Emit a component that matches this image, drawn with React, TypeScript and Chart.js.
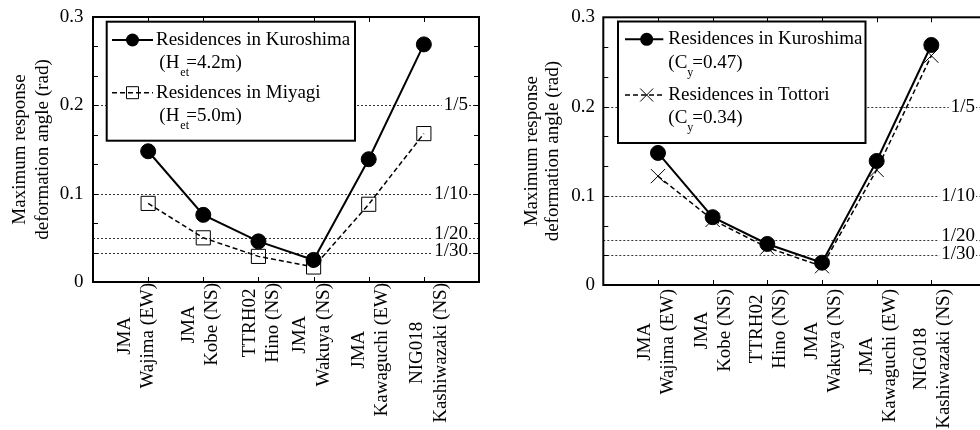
import React, { useEffect, useRef } from "react";
import { Chart, registerables } from "chart.js";
Chart.register(...registerables);

const FONT = "'Liberation Serif', 'Times New Roman', Times, serif";

// ---- data ----
const stationCodes = ["JMA", "JMA", "TTRH02", "JMA", "JMA", "NIG018"];
const stationNames = ["Wajima (EW)", "Kobe (NS)", "Hino (NS)", "Wakuya (NS)", "Kawaguchi (EW)", "Kashiwazaki (NS)"];
const categoryPositions = [1, 2, 3, 4, 5, 6];
const kuroshima = [0.148, 0.076, 0.046, 0.025, 0.139, 0.269];
const miyagi = [0.089, 0.05, 0.029, 0.017, 0.088, 0.168];
const tottori = [0.122, 0.073, 0.042, 0.021, 0.129, 0.257];
const refValues = [1 / 5, 1 / 10, 1 / 20, 1 / 30];
const refLabels = ["1/5", "1/10", "1/20", "1/30"];
const yTitle = ["Maximum response", "deformation angle (rad)"];
const yMax = 0.3;
const yMinorStep = 1 / 30;
const xMax = 7;

type Series = {
  name: string;
  pre: string;
  sub: string;
  post: string;
  data: number[];
  style: "circle" | "rect" | "crossRot";
  dash: number[];
  radius: number;
  fill: string;
};

const kuroshimaH: Series = { name: "Residences in Kuroshima", pre: "(H", sub: "et", post: "=4.2m)", data: kuroshima, style: "circle", dash: [], radius: 7.5, fill: "#000" };
const miyagiH: Series = { name: "Residences in Miyagi", pre: "(H", sub: "et", post: "=5.0m)", data: miyagi, style: "rect", dash: [5, 3], radius: 10, fill: "rgba(0,0,0,0)" };
const kuroshimaC: Series = { name: "Residences in Kuroshima", pre: "(C", sub: "y", post: "=0.47)", data: kuroshima, style: "circle", dash: [], radius: 7.5, fill: "#000" };
const tottoriC: Series = { name: "Residences in Tottori", pre: "(C", sub: "y", post: "=0.34)", data: tottori, style: "crossRot", dash: [5, 3], radius: 10, fill: "rgba(0,0,0,0)" };

type Cfg = {
  series: Series[];
  padding: { left: number; right: number; top: number; bottom: number };
  yAxisWidth: number;
  tickPad: number;
  titlePad: number;
  titleLH: number;
  refInset: number;
  refNudge: number[];
  labelGap: number;
  labelLH: number;
  labelNudge: number[];
  legend: { x: number; y: number; w: number; h: number; l1: number; l2: number; mx: number; tx: number; px: number; rows: number[]; subOff: number; postOff: number };
};

function zeroPadding(s: any) {
  s.paddingLeft = 0;
  s.paddingRight = 0;
  s.paddingTop = 0;
  s.paddingBottom = 0;
}

function drawMarker(ctx: CanvasRenderingContext2D, style: string, x: number, y: number) {
  ctx.save();
  ctx.setLineDash([]);
  ctx.strokeStyle = "#000";
  ctx.fillStyle = "#000";
  ctx.lineWidth = 1;
  ctx.beginPath();
  if (style === "circle") {
    ctx.arc(x, y, 6.5, 0, Math.PI * 2);
    ctx.fill();
  } else if (style === "rect") {
    ctx.rect(x - 6, y - 6, 12, 12);
    ctx.stroke();
  } else {
    ctx.moveTo(x - 6.5, y - 6.5);
    ctx.lineTo(x + 6.5, y + 6.5);
    ctx.moveTo(x - 6.5, y + 6.5);
    ctx.lineTo(x + 6.5, y - 6.5);
    ctx.stroke();
  }
  ctx.restore();
}

function makeChart(canvas: HTMLCanvasElement, cfg: Cfg) {
  const datasets = cfg.series.map((s) => ({
    label: s.name,
    data: s.data.map((v, i) => ({ x: categoryPositions[i], y: v })),
    borderColor: "#000",
    borderWidth: s.dash.length ? 1.5 : 2,
    borderDash: s.dash,
    pointStyle: s.style,
    pointRadius: s.radius,
    pointBorderWidth: 1,
    pointBackgroundColor: s.fill,
    pointBorderColor: "#000",
    fill: false,
    tension: 0,
    clip: false,
  }));

  const plugin = {
    id: "decor",
    beforeDatasetsDraw(chart: any) {
      const ctx: CanvasRenderingContext2D = chart.ctx;
      const { left, right } = chart.chartArea;
      const ys = chart.scales.y;
      ctx.save();
      ctx.strokeStyle = "#333";
      ctx.lineWidth = 1;
      ctx.setLineDash([2, 2]);
      refValues.forEach((v) => {
        const y = Math.round(ys.getPixelForValue(v)) + 0.5;
        ctx.beginPath();
        ctx.moveTo(left, y);
        ctx.lineTo(right, y);
        ctx.stroke();
      });
      ctx.setLineDash([]);
      ctx.font = `19px ${FONT}`;
      ctx.textAlign = "right";
      ctx.textBaseline = "middle";
      const xr = right - cfg.refInset;
      refValues.forEach((v, i) => {
        const y = ys.getPixelForValue(v);
        const w = ctx.measureText(refLabels[i]).width;
        ctx.fillStyle = "#fff";
        ctx.fillRect(xr - w - 2, y - 2, w + 3, 4);
      });
      refValues.forEach((v, i) => {
        const y = ys.getPixelForValue(v);
        ctx.fillStyle = "#000";
        ctx.fillText(refLabels[i], xr, y + cfg.refNudge[i]);
      });
      ctx.restore();
    },
    afterDatasetsDraw(chart: any) {
      const ctx: CanvasRenderingContext2D = chart.ctx;
      const { left, right, top, bottom } = chart.chartArea;
      const xs = chart.scales.x;
      const ys = chart.scales.y;
      ctx.save();
      // frame and inward ticks
      ctx.strokeStyle = "#000";
      ctx.lineWidth = 2;
      ctx.strokeRect(left, top, right - left, bottom - top);
      ctx.lineWidth = 1;
      ctx.beginPath();
      for (let k = 1; k * yMinorStep < yMax - 1e-9; k++) {
        const y = Math.round(ys.getPixelForValue(k * yMinorStep)) + 0.5;
        ctx.moveTo(left, y);
        ctx.lineTo(left + 5, y);
        ctx.moveTo(right, y);
        ctx.lineTo(right - 5, y);
      }
      categoryPositions.forEach((c) => {
        const x = Math.round(xs.getPixelForValue(c)) + 0.5;
        ctx.moveTo(x, bottom);
        ctx.lineTo(x, bottom - 5);
        ctx.moveTo(x, top);
        ctx.lineTo(x, top + 5);
      });
      ctx.stroke();

      // legend
      const lg = cfg.legend;
      ctx.fillStyle = "#fff";
      ctx.fillRect(lg.x, lg.y, lg.w, lg.h);
      ctx.lineWidth = 2;
      ctx.strokeStyle = "#000";
      ctx.strokeRect(lg.x, lg.y, lg.w, lg.h);
      cfg.series.forEach((s, i) => {
        const yMain = lg.rows[i * 2];
        const ySub = lg.rows[i * 2 + 1];
        ctx.beginPath();
        ctx.setLineDash(s.dash);
        ctx.lineWidth = s.dash.length ? 1.5 : 2;
        ctx.moveTo(lg.l1, yMain);
        ctx.lineTo(lg.l2, yMain);
        ctx.stroke();
        ctx.setLineDash([]);
        drawMarker(ctx, s.style, lg.mx, yMain);
        ctx.fillStyle = "#000";
        ctx.textAlign = "left";
        ctx.textBaseline = "middle";
        ctx.font = `19px ${FONT}`;
        ctx.fillText(s.name, lg.tx, yMain);
        ctx.fillText(s.pre, lg.px, ySub);
        const w = ctx.measureText(s.pre).width;
        ctx.font = `12px ${FONT}`;
        ctx.fillText(s.sub, lg.px + w + lg.subOff, ySub + 10);
        ctx.font = `19px ${FONT}`;
        ctx.fillText(s.post, lg.px + w + lg.postOff, ySub);
      });

      // category labels (two centred lines, rotated)
      ctx.font = `19px ${FONT}`;
      ctx.fillStyle = "#000";
      ctx.textAlign = "center";
      ctx.textBaseline = "middle";
      categoryPositions.forEach((c, i) => {
        const px = xs.getPixelForValue(c) + cfg.labelNudge[i];
        const lines = [stationCodes[i], stationNames[i]];
        const maxW = Math.max(...lines.map((t) => ctx.measureText(t).width));
        ctx.save();
        ctx.translate(px, bottom + cfg.labelGap);
        ctx.rotate(-Math.PI / 2);
        lines.forEach((t, j) => {
          ctx.fillText(t, -maxW / 2, (j - (lines.length - 1) / 2) * cfg.labelLH);
        });
        ctx.restore();
      });
      ctx.restore();
    },
  };

  return new Chart(canvas, {
    type: "line",
    data: { datasets } as any,
    options: {
      responsive: false,
      maintainAspectRatio: false,
      animation: false,
      devicePixelRatio: 1,
      events: [],
      layout: { padding: cfg.padding, autoPadding: false },
      plugins: { legend: { display: false }, tooltip: { enabled: false } },
      scales: {
        x: { type: "linear", min: 0, max: xMax, display: false, afterFit: zeroPadding },
        y: {
          type: "linear",
          min: 0,
          max: yMax,
          grid: { display: false, drawTicks: false },
          border: { display: false },
          ticks: { stepSize: 0.1, padding: cfg.tickPad, color: "#000", font: { family: FONT, size: 19 } },
          title: {
            display: true,
            text: yTitle,
            color: "#000",
            font: { family: FONT, size: 19, lineHeight: cfg.titleLH },
            padding: { top: cfg.titlePad, bottom: 0 },
          },
          afterFit: (s: any) => {
            s.width = cfg.yAxisWidth;
            zeroPadding(s);
          },
        },
      },
    } as any,
    plugins: [plugin],
  });
}

const leftCfg: Cfg = {
  series: [kuroshimaH, miyagiH],
  padding: { left: 0, right: 11, top: 17, bottom: 148 },
  yAxisWidth: 93,
  tickPad: 9.5,
  titlePad: 8.6,
  titleLH: 1.2,
  refInset: 11,
  refNudge: [0, 0, -4, -1.5],
  labelGap: 1,
  labelLH: 23.5,
  labelNudge: [-11.5, -3, 3, -1.5, 2, 5],
  legend: { x: 106.7, y: 21.7, w: 248.3, h: 119, l1: 112, l2: 153, mx: 132.5, tx: 156, px: 159.3, rows: [40, 62.7, 92.7, 116], subOff: 1, postOff: 7 },
};

// right chart: canvas spans 490..990; its plot area reaches x=986 and is cut off by the page edge
const rightCfg: Cfg = {
  series: [kuroshimaC, tottoriC],
  padding: { left: 0, right: 4, top: 17.3, bottom: 145 },
  yAxisWidth: 113.3,
  tickPad: 8.3,
  titlePad: 30.9,
  titleLH: 1.14,
  refInset: 11,
  refNudge: [0, 0, -4, -1.5],
  labelGap: 4,
  labelLH: 22.5,
  labelNudge: [-1.5, 1, 1, 1.5, 2, 1],
  legend: { x: 128, y: 21.5, w: 247.5, h: 121.5, l1: 135, l2: 173.3, mx: 156.7, tx: 178.3, px: 178.3, rows: [39.3, 62.7, 95, 118.3], subOff: 0, postOff: 5 },
};

export default function App() {
  const leftRef = useRef<HTMLCanvasElement | null>(null);
  const rightRef = useRef<HTMLCanvasElement | null>(null);

  useEffect(() => {
    const charts: Chart[] = [];
    if (leftRef.current) charts.push(makeChart(leftRef.current, leftCfg));
    if (rightRef.current) charts.push(makeChart(rightRef.current, rightCfg));
    return () => charts.forEach((c) => c.destroy());
  }, []);

  return (
    <div style={{ position: "fixed", left: 0, top: 0, width: 980, height: 430, overflow: "hidden", background: "#fff" }}>
      <canvas ref={leftRef} width={490} height={430} style={{ position: "absolute", left: 0, top: 0, width: 490, height: 430 }} />
      <canvas ref={rightRef} width={500} height={430} style={{ position: "absolute", left: 490, top: 0, width: 500, height: 430 }} />
    </div>
  );
}
